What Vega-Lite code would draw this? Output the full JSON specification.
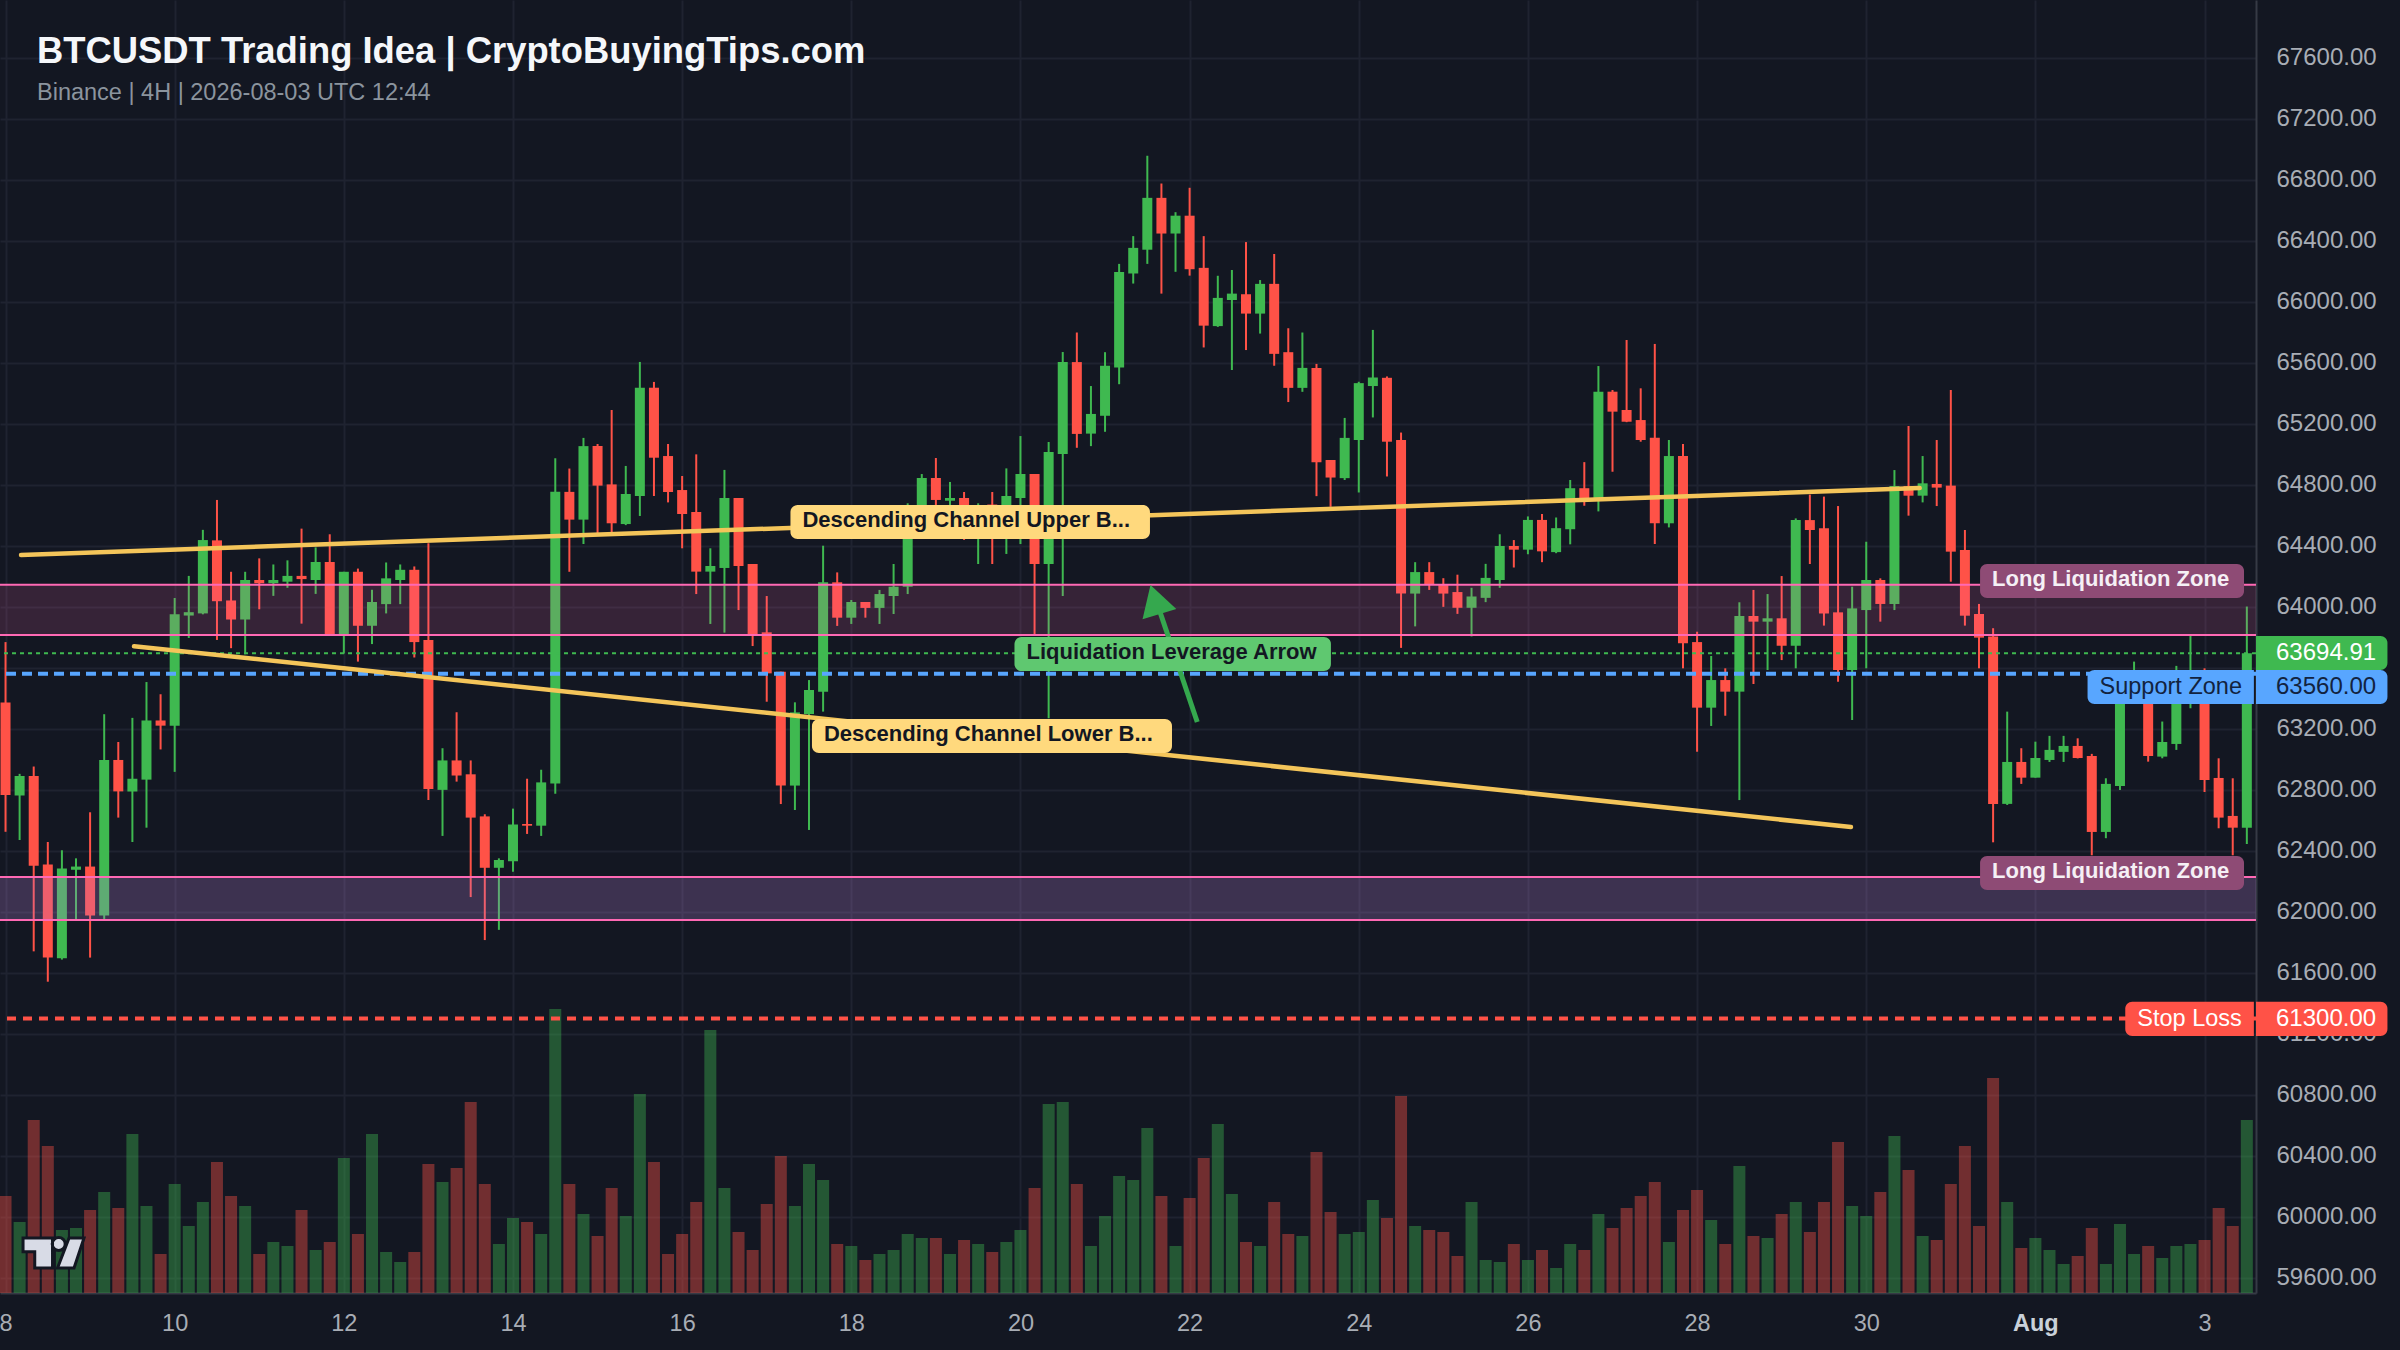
{
  "$schema": "https://vega.github.io/schema/vega-lite/v6.json",
  "autosize": {"type": "none"},
  "padding": {"left": 0, "top": 0, "right": 144, "bottom": 57},
  "width": 2256,
  "height": 1293,
  "background": "#131722",
  "config": {"view": {"stroke": null}, "font": "Liberation Sans"},
  "title": {
    "text": "BTCUSDT Trading Idea | CryptoBuyingTips.com",
    "subtitle": "Binance | 4H | 2026-08-03 UTC 12:44",
    "anchor": "start",
    "frame": "group",
    "orient": "top",
    "offset": -104,
    "dx": 37,
    "font": "Liberation Sans",
    "fontSize": 36.4,
    "fontWeight": "bold",
    "color": "#f5f7fa",
    "subtitleFont": "Liberation Sans",
    "subtitleFontSize": 23.5,
    "subtitleColor": "#8b949e",
    "subtitlePadding": 10
  },
  "datasets": {
    "candles": [
      {"t":"2026-07-08T00:00:00Z","o":63372,"h":63768,"l":62524,"c":62765,"v":97},
      {"t":"2026-07-08T04:00:00Z","o":62762,"h":62904,"l":62470,"c":62890,"v":71},
      {"t":"2026-07-08T08:00:00Z","o":62890,"h":62952,"l":61740,"c":62302,"v":173},
      {"t":"2026-07-08T12:00:00Z","o":62310,"h":62457,"l":61541,"c":61699,"v":147},
      {"t":"2026-07-08T16:00:00Z","o":61694,"h":62403,"l":61686,"c":62283,"v":63},
      {"t":"2026-07-08T20:00:00Z","o":62275,"h":62350,"l":61948,"c":62296,"v":65},
      {"t":"2026-07-09T00:00:00Z","o":62296,"h":62652,"l":61699,"c":61975,"v":83},
      {"t":"2026-07-09T04:00:00Z","o":61975,"h":63295,"l":61948,"c":62995,"v":101},
      {"t":"2026-07-09T08:00:00Z","o":62995,"h":63113,"l":62617,"c":62789,"v":85},
      {"t":"2026-07-09T12:00:00Z","o":62789,"h":63271,"l":62457,"c":62872,"v":159},
      {"t":"2026-07-09T16:00:00Z","o":62866,"h":63506,"l":62551,"c":63254,"v":87},
      {"t":"2026-07-09T20:00:00Z","o":63254,"h":63426,"l":63064,"c":63220,"v":39},
      {"t":"2026-07-10T00:00:00Z","o":63220,"h":64057,"l":62917,"c":63950,"v":109},
      {"t":"2026-07-10T04:00:00Z","o":63942,"h":64202,"l":63795,"c":63964,"v":67},
      {"t":"2026-07-10T08:00:00Z","o":63956,"h":64504,"l":63950,"c":64437,"v":91},
      {"t":"2026-07-10T12:00:00Z","o":64435,"h":64700,"l":63782,"c":64036,"v":131},
      {"t":"2026-07-10T16:00:00Z","o":64041,"h":64229,"l":63728,"c":63916,"v":97},
      {"t":"2026-07-10T20:00:00Z","o":63916,"h":64229,"l":63688,"c":64175,"v":87},
      {"t":"2026-07-11T00:00:00Z","o":64175,"h":64317,"l":63983,"c":64154,"v":39},
      {"t":"2026-07-11T04:00:00Z","o":64154,"h":64277,"l":64071,"c":64175,"v":51},
      {"t":"2026-07-11T08:00:00Z","o":64164,"h":64304,"l":64124,"c":64202,"v":47},
      {"t":"2026-07-11T12:00:00Z","o":64202,"h":64512,"l":63889,"c":64181,"v":83},
      {"t":"2026-07-11T16:00:00Z","o":64175,"h":64389,"l":64084,"c":64293,"v":43},
      {"t":"2026-07-11T20:00:00Z","o":64293,"h":64475,"l":63817,"c":63817,"v":51},
      {"t":"2026-07-12T00:00:00Z","o":63817,"h":64229,"l":63693,"c":64229,"v":135},
      {"t":"2026-07-12T04:00:00Z","o":64229,"h":64250,"l":63640,"c":63875,"v":59},
      {"t":"2026-07-12T08:00:00Z","o":63875,"h":64111,"l":63755,"c":64031,"v":159},
      {"t":"2026-07-12T12:00:00Z","o":64017,"h":64290,"l":63956,"c":64186,"v":41},
      {"t":"2026-07-12T16:00:00Z","o":64175,"h":64277,"l":64017,"c":64242,"v":31},
      {"t":"2026-07-12T20:00:00Z","o":64242,"h":64264,"l":63667,"c":63768,"v":41},
      {"t":"2026-07-13T00:00:00Z","o":63782,"h":64416,"l":62733,"c":62805,"v":129},
      {"t":"2026-07-13T04:00:00Z","o":62799,"h":63072,"l":62497,"c":62992,"v":111},
      {"t":"2026-07-13T08:00:00Z","o":62992,"h":63308,"l":62853,"c":62893,"v":125},
      {"t":"2026-07-13T12:00:00Z","o":62901,"h":62992,"l":62096,"c":62617,"v":191},
      {"t":"2026-07-13T16:00:00Z","o":62625,"h":62639,"l":61814,"c":62288,"v":109},
      {"t":"2026-07-13T20:00:00Z","o":62288,"h":62350,"l":61881,"c":62339,"v":49},
      {"t":"2026-07-14T00:00:00Z","o":62331,"h":62676,"l":62262,"c":62572,"v":75},
      {"t":"2026-07-14T04:00:00Z","o":62575,"h":62872,"l":62510,"c":62564,"v":71},
      {"t":"2026-07-14T08:00:00Z","o":62564,"h":62931,"l":62497,"c":62848,"v":59},
      {"t":"2026-07-14T12:00:00Z","o":62840,"h":64973,"l":62773,"c":64753,"v":284},
      {"t":"2026-07-14T16:00:00Z","o":64753,"h":64906,"l":64229,"c":64571,"v":109},
      {"t":"2026-07-14T20:00:00Z","o":64571,"h":65107,"l":64411,"c":65053,"v":79},
      {"t":"2026-07-15T00:00:00Z","o":65054,"h":65067,"l":64481,"c":64794,"v":57},
      {"t":"2026-07-15T04:00:00Z","o":64802,"h":65290,"l":64481,"c":64547,"v":105},
      {"t":"2026-07-15T08:00:00Z","o":64542,"h":64923,"l":64535,"c":64739,"v":77},
      {"t":"2026-07-15T12:00:00Z","o":64726,"h":65605,"l":64595,"c":65436,"v":199},
      {"t":"2026-07-15T16:00:00Z","o":65436,"h":65474,"l":64726,"c":64977,"v":131},
      {"t":"2026-07-15T20:00:00Z","o":64988,"h":65067,"l":64684,"c":64752,"v":39},
      {"t":"2026-07-16T00:00:00Z","o":64765,"h":64857,"l":64383,"c":64608,"v":59},
      {"t":"2026-07-16T04:00:00Z","o":64621,"h":64999,"l":64083,"c":64230,"v":91},
      {"t":"2026-07-16T08:00:00Z","o":64230,"h":64383,"l":63887,"c":64267,"v":263},
      {"t":"2026-07-16T12:00:00Z","o":64254,"h":64897,"l":63830,"c":64713,"v":105},
      {"t":"2026-07-16T16:00:00Z","o":64713,"h":64713,"l":63978,"c":64267,"v":61},
      {"t":"2026-07-16T20:00:00Z","o":64280,"h":64280,"l":63742,"c":63821,"v":43},
      {"t":"2026-07-17T00:00:00Z","o":63832,"h":64070,"l":63377,"c":63563,"v":89},
      {"t":"2026-07-17T04:00:00Z","o":63574,"h":63574,"l":62706,"c":62827,"v":137},
      {"t":"2026-07-17T08:00:00Z","o":62827,"h":63373,"l":62667,"c":63307,"v":87},
      {"t":"2026-07-17T12:00:00Z","o":63296,"h":63519,"l":62536,"c":63454,"v":129},
      {"t":"2026-07-17T16:00:00Z","o":63443,"h":64400,"l":63312,"c":64160,"v":113},
      {"t":"2026-07-17T20:00:00Z","o":64160,"h":64225,"l":63874,"c":63928,"v":49},
      {"t":"2026-07-18T00:00:00Z","o":63928,"h":64044,"l":63887,"c":64031,"v":47},
      {"t":"2026-07-18T04:00:00Z","o":64031,"h":64031,"l":63928,"c":63992,"v":33},
      {"t":"2026-07-18T08:00:00Z","o":63992,"h":64110,"l":63887,"c":64083,"v":39},
      {"t":"2026-07-18T12:00:00Z","o":64070,"h":64280,"l":63952,"c":64131,"v":43},
      {"t":"2026-07-18T16:00:00Z","o":64131,"h":64678,"l":64083,"c":64660,"v":59},
      {"t":"2026-07-18T20:00:00Z","o":64667,"h":64870,"l":64656,"c":64844,"v":55},
      {"t":"2026-07-19T00:00:00Z","o":64844,"h":64975,"l":64667,"c":64700,"v":55},
      {"t":"2026-07-19T04:00:00Z","o":64695,"h":64818,"l":64650,"c":64713,"v":39},
      {"t":"2026-07-19T08:00:00Z","o":64713,"h":64752,"l":64438,"c":64650,"v":53},
      {"t":"2026-07-19T12:00:00Z","o":64560,"h":64678,"l":64280,"c":64640,"v":49},
      {"t":"2026-07-19T16:00:00Z","o":64670,"h":64752,"l":64280,"c":64600,"v":41},
      {"t":"2026-07-19T20:00:00Z","o":64560,"h":64907,"l":64346,"c":64726,"v":51},
      {"t":"2026-07-20T00:00:00Z","o":64713,"h":65119,"l":64411,"c":64870,"v":63},
      {"t":"2026-07-20T04:00:00Z","o":64870,"h":64870,"l":63814,"c":64280,"v":105},
      {"t":"2026-07-20T08:00:00Z","o":64280,"h":65080,"l":63268,"c":65015,"v":189},
      {"t":"2026-07-20T12:00:00Z","o":65001,"h":65670,"l":64070,"c":65605,"v":191},
      {"t":"2026-07-20T16:00:00Z","o":65604,"h":65798,"l":65042,"c":65133,"v":109},
      {"t":"2026-07-20T20:00:00Z","o":65135,"h":65447,"l":65053,"c":65264,"v":47},
      {"t":"2026-07-21T00:00:00Z","o":65252,"h":65669,"l":65147,"c":65580,"v":77},
      {"t":"2026-07-21T04:00:00Z","o":65569,"h":66248,"l":65459,"c":66194,"v":117},
      {"t":"2026-07-21T08:00:00Z","o":66185,"h":66430,"l":66119,"c":66353,"v":113},
      {"t":"2026-07-21T12:00:00Z","o":66341,"h":66957,"l":66248,"c":66681,"v":165},
      {"t":"2026-07-21T16:00:00Z","o":66681,"h":66775,"l":66053,"c":66447,"v":97},
      {"t":"2026-07-21T20:00:00Z","o":66447,"h":66587,"l":66196,"c":66564,"v":47},
      {"t":"2026-07-22T00:00:00Z","o":66564,"h":66747,"l":66171,"c":66213,"v":95},
      {"t":"2026-07-22T04:00:00Z","o":66222,"h":66430,"l":65700,"c":65843,"v":135},
      {"t":"2026-07-22T08:00:00Z","o":65840,"h":66170,"l":65835,"c":66025,"v":169},
      {"t":"2026-07-22T12:00:00Z","o":66011,"h":66208,"l":65552,"c":66053,"v":99},
      {"t":"2026-07-22T16:00:00Z","o":66049,"h":66391,"l":65683,"c":65922,"v":51},
      {"t":"2026-07-22T20:00:00Z","o":65922,"h":66142,"l":65791,"c":66117,"v":47},
      {"t":"2026-07-23T00:00:00Z","o":66117,"h":66313,"l":65580,"c":65658,"v":91},
      {"t":"2026-07-23T04:00:00Z","o":65669,"h":65826,"l":65342,"c":65435,"v":59},
      {"t":"2026-07-23T08:00:00Z","o":65435,"h":65798,"l":65409,"c":65566,"v":57},
      {"t":"2026-07-23T12:00:00Z","o":65566,"h":65592,"l":64725,"c":64948,"v":141},
      {"t":"2026-07-23T16:00:00Z","o":64962,"h":64962,"l":64655,"c":64847,"v":81},
      {"t":"2026-07-23T20:00:00Z","o":64843,"h":65238,"l":64831,"c":65107,"v":59},
      {"t":"2026-07-24T00:00:00Z","o":65093,"h":65475,"l":64749,"c":65466,"v":61},
      {"t":"2026-07-24T04:00:00Z","o":65447,"h":65815,"l":65241,"c":65503,"v":93},
      {"t":"2026-07-24T08:00:00Z","o":65501,"h":65510,"l":64854,"c":65082,"v":75},
      {"t":"2026-07-24T12:00:00Z","o":65093,"h":65142,"l":63730,"c":64086,"v":197},
      {"t":"2026-07-24T16:00:00Z","o":64086,"h":64292,"l":63871,"c":64227,"v":67},
      {"t":"2026-07-24T20:00:00Z","o":64227,"h":64292,"l":64110,"c":64147,"v":63},
      {"t":"2026-07-25T00:00:00Z","o":64142,"h":64187,"l":63999,"c":64086,"v":61},
      {"t":"2026-07-25T04:00:00Z","o":64096,"h":64210,"l":63953,"c":63993,"v":37},
      {"t":"2026-07-25T08:00:00Z","o":63993,"h":64124,"l":63805,"c":64067,"v":91},
      {"t":"2026-07-25T12:00:00Z","o":64058,"h":64281,"l":64030,"c":64189,"v":33},
      {"t":"2026-07-25T16:00:00Z","o":64175,"h":64475,"l":64124,"c":64398,"v":31},
      {"t":"2026-07-25T20:00:00Z","o":64398,"h":64437,"l":64257,"c":64374,"v":49},
      {"t":"2026-07-26T00:00:00Z","o":64374,"h":64592,"l":64344,"c":64569,"v":33},
      {"t":"2026-07-26T04:00:00Z","o":64569,"h":64608,"l":64292,"c":64363,"v":43},
      {"t":"2026-07-26T08:00:00Z","o":64358,"h":64585,"l":64351,"c":64515,"v":25},
      {"t":"2026-07-26T12:00:00Z","o":64508,"h":64831,"l":64409,"c":64777,"v":49},
      {"t":"2026-07-26T16:00:00Z","o":64777,"h":64948,"l":64662,"c":64700,"v":43},
      {"t":"2026-07-26T20:00:00Z","o":64711,"h":65578,"l":64625,"c":65410,"v":79},
      {"t":"2026-07-27T00:00:00Z","o":65410,"h":65421,"l":64885,"c":65279,"v":65},
      {"t":"2026-07-27T04:00:00Z","o":65290,"h":65749,"l":65210,"c":65213,"v":85},
      {"t":"2026-07-27T08:00:00Z","o":65224,"h":65432,"l":65082,"c":65093,"v":97},
      {"t":"2026-07-27T12:00:00Z","o":65108,"h":65723,"l":64411,"c":64547,"v":111},
      {"t":"2026-07-27T16:00:00Z","o":64547,"h":65093,"l":64520,"c":64988,"v":51},
      {"t":"2026-07-27T20:00:00Z","o":64988,"h":65067,"l":63596,"c":63760,"v":83},
      {"t":"2026-07-28T00:00:00Z","o":63768,"h":63836,"l":63049,"c":63338,"v":103},
      {"t":"2026-07-28T04:00:00Z","o":63338,"h":63677,"l":63218,"c":63519,"v":73},
      {"t":"2026-07-28T08:00:00Z","o":63519,"h":63596,"l":63285,"c":63443,"v":49},
      {"t":"2026-07-28T12:00:00Z","o":63443,"h":64029,"l":62732,"c":63939,"v":127},
      {"t":"2026-07-28T16:00:00Z","o":63939,"h":64110,"l":63493,"c":63902,"v":57},
      {"t":"2026-07-28T20:00:00Z","o":63902,"h":64083,"l":63585,"c":63924,"v":55},
      {"t":"2026-07-29T00:00:00Z","o":63924,"h":64201,"l":63650,"c":63744,"v":79},
      {"t":"2026-07-29T04:00:00Z","o":63744,"h":64579,"l":63596,"c":64568,"v":91},
      {"t":"2026-07-29T08:00:00Z","o":64568,"h":64735,"l":64280,"c":64503,"v":61},
      {"t":"2026-07-29T12:00:00Z","o":64514,"h":64722,"l":63876,"c":63956,"v":91},
      {"t":"2026-07-29T16:00:00Z","o":63963,"h":64660,"l":63508,"c":63585,"v":151},
      {"t":"2026-07-29T20:00:00Z","o":63585,"h":64131,"l":63257,"c":63989,"v":87},
      {"t":"2026-07-30T00:00:00Z","o":63978,"h":64426,"l":63596,"c":64175,"v":77},
      {"t":"2026-07-30T04:00:00Z","o":64175,"h":64186,"l":63902,"c":64018,"v":101},
      {"t":"2026-07-30T08:00:00Z","o":64018,"h":64896,"l":63978,"c":64791,"v":157},
      {"t":"2026-07-30T12:00:00Z","o":64791,"h":65185,"l":64597,"c":64728,"v":123},
      {"t":"2026-07-30T16:00:00Z","o":64728,"h":64988,"l":64684,"c":64809,"v":57},
      {"t":"2026-07-30T20:00:00Z","o":64805,"h":65093,"l":64660,"c":64781,"v":53},
      {"t":"2026-07-31T00:00:00Z","o":64794,"h":65421,"l":64164,"c":64361,"v":109},
      {"t":"2026-07-31T04:00:00Z","o":64372,"h":64503,"l":63876,"c":63941,"v":147},
      {"t":"2026-07-31T08:00:00Z","o":63952,"h":64018,"l":63596,"c":63797,"v":67},
      {"t":"2026-07-31T12:00:00Z","o":63804,"h":63859,"l":62455,"c":62707,"v":215},
      {"t":"2026-07-31T16:00:00Z","o":62707,"h":63312,"l":62700,"c":62982,"v":91},
      {"t":"2026-07-31T20:00:00Z","o":62982,"h":63072,"l":62838,"c":62879,"v":45},
      {"t":"2026-08-01T00:00:00Z","o":62879,"h":63115,"l":62879,"c":63008,"v":55},
      {"t":"2026-08-01T04:00:00Z","o":62995,"h":63153,"l":62982,"c":63061,"v":43},
      {"t":"2026-08-01T08:00:00Z","o":63048,"h":63153,"l":62982,"c":63087,"v":29},
      {"t":"2026-08-01T12:00:00Z","o":63087,"h":63137,"l":63005,"c":63008,"v":37},
      {"t":"2026-08-01T16:00:00Z","o":63021,"h":63035,"l":62370,"c":62523,"v":65},
      {"t":"2026-08-01T20:00:00Z","o":62523,"h":62875,"l":62482,"c":62838,"v":29},
      {"t":"2026-08-02T00:00:00Z","o":62825,"h":63570,"l":62798,"c":63540,"v":69},
      {"t":"2026-08-02T04:00:00Z","o":63420,"h":63640,"l":63380,"c":63550,"v":39},
      {"t":"2026-08-02T08:00:00Z","o":63500,"h":63560,"l":62984,"c":63021,"v":47},
      {"t":"2026-08-02T12:00:00Z","o":63017,"h":63247,"l":63006,"c":63113,"v":35},
      {"t":"2026-08-02T16:00:00Z","o":63100,"h":63612,"l":63061,"c":63500,"v":47},
      {"t":"2026-08-02T20:00:00Z","o":63400,"h":63808,"l":63334,"c":63520,"v":49},
      {"t":"2026-08-03T00:00:00Z","o":63500,"h":63596,"l":62785,"c":62864,"v":53},
      {"t":"2026-08-03T04:00:00Z","o":62877,"h":63006,"l":62547,"c":62617,"v":85},
      {"t":"2026-08-03T08:00:00Z","o":62628,"h":62875,"l":62370,"c":62551,"v":67},
      {"t":"2026-08-03T12:00:00Z","o":62551,"h":64001,"l":62444,"c":63694.91,"v":173}
    ],
    "zones": [
      {"zone": "upper", "p0": 64144, "p1": 63814},
      {"zone": "lower", "p0": 62228, "p1": 61946}
    ],
    "trend": [
      {"name": "upper", "t": "2026-07-08T04:24:00Z", "p": 64339},
      {"name": "upper", "t": "2026-07-30T15:10:00Z", "p": 64778},
      {"name": "lower", "t": "2026-07-09T12:28:00Z", "p": 63741},
      {"name": "lower", "t": "2026-07-29T19:40:00Z", "p": 62555}
    ],
    "labels": [
      {"label": "Descending Channel Upper B...", "kind": "channel", "t0": "2026-07-17T06:44:00Z", "t1": "2026-07-21T12:45:00Z", "p0": 64667, "p1": 64444, "pm": 64555},
      {"label": "Descending Channel Lower B...", "kind": "channel", "t0": "2026-07-17T12:50:00Z", "t1": "2026-07-21T19:00:00Z", "p0": 63263, "p1": 63041, "pm": 63152},
      {"label": "Liquidation Leverage Arrow", "kind": "leverage", "t0": "2026-07-19T22:18:00Z", "t1": "2026-07-23T16:06:00Z", "p0": 63801, "p1": 63578, "pm": 63690},
      {"label": "Long Liquidation Zone", "kind": "liquidation", "t0": "2026-07-31T08:18:00Z", "t1": "2026-08-03T11:12:00Z", "p0": 64280, "p1": 64057, "pm": 64168},
      {"label": "Long Liquidation Zone", "kind": "liquidation", "t0": "2026-07-31T08:18:00Z", "t1": "2026-08-03T11:12:00Z", "p0": 62365, "p1": 62142, "pm": 62254}
    ],
    "sideLabels": [
      {"label": "Support Zone", "kind": "support", "t0": "2026-08-01T14:48:00Z", "t1": "2026-08-03T14:00:00Z", "p0": 63585, "p1": 63362, "pm": 63473},
      {"label": "Stop Loss", "kind": "stop", "t0": "2026-08-02T01:30:00Z", "t1": "2026-08-03T14:00:00Z", "p0": 61410, "p1": 61185, "pm": 61298}
    ],
    "tags": [
      {"label": "63694.91", "kind": "last", "t0": "2026-08-03T14:36:00Z", "t1": "2026-08-05T03:54:00Z", "p0": 63808, "p1": 63585, "pm": 63697},
      {"label": "63560.00", "kind": "support", "t0": "2026-08-03T14:36:00Z", "t1": "2026-08-05T03:54:00Z", "p0": 63585, "p1": 63362, "pm": 63473},
      {"label": "61300.00", "kind": "stop", "t0": "2026-08-03T14:36:00Z", "t1": "2026-08-05T03:54:00Z", "p0": 61410, "p1": 61185, "pm": 61298}
    ]
  },
  "layer": [
    {
      "data": {"name": "candles"},
      "mark": {"type": "bar", "width": 12, "opacity": 0.4},
      "encoding": {
        "x": {
          "field": "t",
          "type": "temporal",
          "scale": {"type": "utc", "padding": 0, "domain": ["2026-07-07T22:26:00Z", "2026-08-03T14:36:00Z"]},
          "axis": {
            "title": null,
            "orient": "bottom",
            "values": ["2026-07-08T00:00:00Z", "2026-07-10T00:00:00Z", "2026-07-12T00:00:00Z", "2026-07-14T00:00:00Z", "2026-07-16T00:00:00Z", "2026-07-18T00:00:00Z", "2026-07-20T00:00:00Z", "2026-07-22T00:00:00Z", "2026-07-24T00:00:00Z", "2026-07-26T00:00:00Z", "2026-07-28T00:00:00Z", "2026-07-30T00:00:00Z", "2026-08-01T00:00:00Z", "2026-08-03T00:00:00Z"],
            "labelExpr": "utcdate(datum.value) == 1 ? 'Aug' : '' + utcdate(datum.value)",
            "labelFontWeight": {"condition": {"test": "utcdate(datum.value) == 1", "value": "bold"}, "value": "normal"},
            "labelColor": {"condition": {"test": "utcdate(datum.value) == 1", "value": "#c9d1d9"}, "value": "#a8adb5"},
            "labelFont": "Liberation Sans",
            "labelFontSize": 23.5,
            "labelPadding": 18,
            "labelOverlap": false,
            "labelFlush": false,
            "labelBound": false,
            "ticks": false,
            "grid": true,
            "gridColor": "#1f2330",
            "gridWidth": 2,
            "domainColor": "#363a45",
            "domainWidth": 2
          }
        },
        "y": {"field": "v", "type": "quantitative", "stack": null, "scale": {"domain": [0, 1293], "nice": false}, "axis": null},
        "color": {"condition": {"test": "datum.c >= datum.o", "value": "#3fb950"}, "value": "#ff5247"}
      }
    },
    {
      "layer": [
        {
          "data": {"name": "candles"},
          "mark": {"type": "rule", "strokeWidth": 2},
          "encoding": {
            "x": {"field": "t", "type": "temporal", "scale": {"type": "utc", "padding": 0, "domain": ["2026-07-07T22:26:00Z", "2026-08-03T14:36:00Z"]}, "axis": {"title": null}},
            "y": {
              "field": "l",
              "type": "quantitative",
              "scale": {"domain": [59499.7, 67978.4], "nice": false, "zero": false},
              "axis": {
                "title": null,
                "orient": "right",
                "values": [59600, 60000, 60400, 60800, 61200, 61600, 62000, 62400, 62800, 63200, 63600, 64000, 64400, 64800, 65200, 65600, 66000, 66400, 66800, 67200, 67600],
                "format": ".2f",
                "labelFont": "Liberation Sans",
                "labelFontSize": 24,
                "labelColor": "#a8adb5",
                "labelPadding": 20,
                "labelOverlap": false,
                "labelFlush": false,
                "labelBound": false,
                "ticks": false,
                "grid": true,
                "gridColor": "#1f2330",
                "gridWidth": 2,
                "domainColor": "#363a45",
                "domainWidth": 2
              }
            },
            "y2": {"field": "h"},
            "color": {"condition": {"test": "datum.c >= datum.o", "value": "#3fb950"}, "value": "#ff5247"}
          }
        },
        {
          "data": {"name": "candles"},
          "mark": {"type": "bar", "width": 10},
          "encoding": {
            "x": {"field": "t", "type": "temporal", "scale": {"type": "utc", "padding": 0, "domain": ["2026-07-07T22:26:00Z", "2026-08-03T14:36:00Z"]}, "axis": {"title": null}},
            "y": {"field": "o", "type": "quantitative", "stack": null, "scale": {"domain": [59499.7, 67978.4], "nice": false, "zero": false}, "axis": {"title": null}},
            "y2": {"field": "c"},
            "color": {"condition": {"test": "datum.c >= datum.o", "value": "#3fb950"}, "value": "#ff5247"}
          }
        },
        {
          "data": {"name": "zones"},
          "mark": {"type": "rect"},
          "encoding": {
            "y": {"field": "p0", "type": "quantitative", "scale": {"domain": [59499.7, 67978.4], "nice": false, "zero": false}, "axis": {"title": null}},
            "y2": {"field": "p1"},
            "color": {"condition": {"test": "datum.zone === 'upper'", "value": "rgba(255,105,180,0.15)"}, "value": "rgba(187,131,218,0.25)"}
          }
        },
        {
          "data": {"name": "zones"},
          "mark": {"type": "rule", "color": "#ff69b4", "strokeWidth": 2},
          "encoding": {
            "y": {"field": "p0", "type": "quantitative", "scale": {"domain": [59499.7, 67978.4], "nice": false, "zero": false}, "axis": {"title": null}}
          }
        },
        {
          "data": {"name": "zones"},
          "mark": {"type": "rule", "color": "#ff69b4", "strokeWidth": 2},
          "encoding": {
            "y": {"field": "p1", "type": "quantitative", "scale": {"domain": [59499.7, 67978.4], "nice": false, "zero": false}, "axis": {"title": null}}
          }
        },
        {
          "data": {"values": [{"p": 63694.91}]},
          "mark": {"type": "rule", "color": "#3fb950", "strokeWidth": 2, "strokeDash": [4, 4]},
          "encoding": {
            "y": {"field": "p", "type": "quantitative", "scale": {"domain": [59499.7, 67978.4], "nice": false, "zero": false}, "axis": {"title": null}}
          }
        },
        {
          "data": {"values": [{"p": 63560}]},
          "mark": {"type": "rule", "color": "#58a6ff", "strokeWidth": 4, "strokeDash": [10, 6]},
          "encoding": {
            "y": {"field": "p", "type": "quantitative", "scale": {"domain": [59499.7, 67978.4], "nice": false, "zero": false}, "axis": {"title": null}}
          }
        },
        {
          "data": {"values": [{"p": 61300}]},
          "mark": {"type": "rule", "color": "#ff5247", "strokeWidth": 4, "strokeDash": [9, 7]},
          "encoding": {
            "y": {"field": "p", "type": "quantitative", "scale": {"domain": [59499.7, 67978.4], "nice": false, "zero": false}, "axis": {"title": null}}
          }
        },
        {
          "data": {"name": "trend"},
          "mark": {"type": "line", "color": "#f4c55a", "strokeWidth": 4.5, "strokeCap": "round"},
          "encoding": {
            "x": {"field": "t", "type": "temporal", "scale": {"type": "utc", "padding": 0, "domain": ["2026-07-07T22:26:00Z", "2026-08-03T14:36:00Z"]}, "axis": {"title": null}},
            "y": {"field": "p", "type": "quantitative", "scale": {"domain": [59499.7, 67978.4], "nice": false, "zero": false}, "axis": {"title": null}},
            "detail": {"field": "name"}
          }
        },
        {
          "data": {"values": [{"t0": "2026-07-21T15:36:00Z", "t1": "2026-07-22T02:10:00Z", "p0": 63965, "p1": 63244}]},
          "mark": {"type": "rule", "color": "#35a84e", "strokeWidth": 5},
          "encoding": {
            "x": {"field": "t0", "type": "temporal", "scale": {"type": "utc", "padding": 0, "domain": ["2026-07-07T22:26:00Z", "2026-08-03T14:36:00Z"]}, "axis": {"title": null}},
            "x2": {"field": "t1"},
            "y": {"field": "p0", "type": "quantitative", "scale": {"domain": [59499.7, 67978.4], "nice": false, "zero": false}, "axis": {"title": null}},
            "y2": {"field": "p1"}
          }
        },
        {
          "data": {"values": [{"t": "2026-07-21T14:10:00Z", "p": 64047}]},
          "mark": {"type": "point", "shape": "triangle-up", "filled": true, "size": 1250, "angle": -17, "color": "#35a84e", "opacity": 1},
          "encoding": {
            "x": {"field": "t", "type": "temporal", "scale": {"type": "utc", "padding": 0, "domain": ["2026-07-07T22:26:00Z", "2026-08-03T14:36:00Z"]}, "axis": {"title": null}},
            "y": {"field": "p", "type": "quantitative", "scale": {"domain": [59499.7, 67978.4], "nice": false, "zero": false}, "axis": {"title": null}}
          }
        },
        {
          "data": {"name": "labels"},
          "mark": {"type": "rect", "cornerRadius": 7},
          "encoding": {
            "x": {"field": "t0", "type": "temporal", "scale": {"type": "utc", "padding": 0, "domain": ["2026-07-07T22:26:00Z", "2026-08-03T14:36:00Z"]}, "axis": {"title": null}},
            "x2": {"field": "t1"},
            "y": {"field": "p0", "type": "quantitative", "scale": {"domain": [59499.7, 67978.4], "nice": false, "zero": false}, "axis": {"title": null}},
            "y2": {"field": "p1"},
            "color": {
              "field": "kind",
              "type": "nominal",
              "scale": {"domain": ["channel", "leverage", "liquidation", "support", "stop", "last"], "range": ["#ffd97d", "#5fc870", "#8e4b75", "#58a6ff", "#ff5247", "#3fb950"]},
              "legend": null
            }
          }
        },
        {
          "data": {"name": "labels"},
          "mark": {"type": "text", "align": "left", "baseline": "middle", "dx": 12, "dy": -2, "font": "Liberation Sans", "fontSize": 22, "fontWeight": "bold"},
          "encoding": {
            "x": {"field": "t0", "type": "temporal", "scale": {"type": "utc", "padding": 0, "domain": ["2026-07-07T22:26:00Z", "2026-08-03T14:36:00Z"]}, "axis": {"title": null}},
            "y": {"field": "pm", "type": "quantitative", "scale": {"domain": [59499.7, 67978.4], "nice": false, "zero": false}, "axis": {"title": null}},
            "text": {"field": "label", "type": "nominal"},
            "color": {"condition": {"test": "datum.kind === 'liquidation'", "value": "#f5f0f5"}, "value": "#131722"}
          }
        },
        {
          "data": {"name": "sideLabels"},
          "mark": {"type": "rect", "cornerRadiusTopLeft": 7, "cornerRadiusBottomLeft": 7},
          "encoding": {
            "x": {"field": "t0", "type": "temporal", "scale": {"type": "utc", "padding": 0, "domain": ["2026-07-07T22:26:00Z", "2026-08-03T14:36:00Z"]}, "axis": {"title": null}},
            "x2": {"field": "t1"},
            "y": {"field": "p0", "type": "quantitative", "scale": {"domain": [59499.7, 67978.4], "nice": false, "zero": false}, "axis": {"title": null}},
            "y2": {"field": "p1"},
            "color": {"field": "kind", "type": "nominal", "legend": null}
          }
        },
        {
          "data": {"name": "sideLabels"},
          "mark": {"type": "text", "align": "left", "baseline": "middle", "dx": 12, "font": "Liberation Sans", "fontSize": 23.5},
          "encoding": {
            "x": {"field": "t0", "type": "temporal", "scale": {"type": "utc", "padding": 0, "domain": ["2026-07-07T22:26:00Z", "2026-08-03T14:36:00Z"]}, "axis": {"title": null}},
            "y": {"field": "pm", "type": "quantitative", "scale": {"domain": [59499.7, 67978.4], "nice": false, "zero": false}, "axis": {"title": null}},
            "text": {"field": "label", "type": "nominal"},
            "color": {"condition": {"test": "datum.kind === 'stop'", "value": "#ffffff"}, "value": "#12233f"}
          }
        },
        {
          "data": {"name": "tags"},
          "mark": {"type": "rect", "cornerRadiusTopRight": 7, "cornerRadiusBottomRight": 7},
          "encoding": {
            "x": {"field": "t0", "type": "temporal", "scale": {"type": "utc", "padding": 0, "domain": ["2026-07-07T22:26:00Z", "2026-08-03T14:36:00Z"]}, "axis": {"title": null}},
            "x2": {"field": "t1"},
            "y": {"field": "p0", "type": "quantitative", "scale": {"domain": [59499.7, 67978.4], "nice": false, "zero": false}, "axis": {"title": null}},
            "y2": {"field": "p1"},
            "color": {"field": "kind", "type": "nominal", "legend": null}
          }
        },
        {
          "data": {"name": "tags"},
          "mark": {"type": "text", "align": "left", "baseline": "middle", "dx": 20, "font": "Liberation Sans", "fontSize": 24},
          "encoding": {
            "x": {"field": "t0", "type": "temporal", "scale": {"type": "utc", "padding": 0, "domain": ["2026-07-07T22:26:00Z", "2026-08-03T14:36:00Z"]}, "axis": {"title": null}},
            "y": {"field": "pm", "type": "quantitative", "scale": {"domain": [59499.7, 67978.4], "nice": false, "zero": false}, "axis": {"title": null}},
            "text": {"field": "label", "type": "nominal"},
            "color": {"condition": {"test": "datum.kind === 'support'", "value": "#12233f"}, "value": "#ffffff"}
          }
        },
        {
          "data": {"values": [{"t": "2026-07-08T13:46:00Z", "p": 59762}]},
          "mark": {
            "type": "point",
            "filled": true,
            "size": 5184,
            "opacity": 1,
            "color": "#d8dbe6",
            "stroke": "#131722",
            "strokeWidth": 3,
            "shape": "M-.861,-.417L-.042,-.417L-.042,.417L-.536,.417L-.536,-.036L-.861,-.036ZM-.05,-.25a.18,.18 0 1,0 .36,0a.18,.18 0 1,0 -.36,0ZM.417,-.417L.833,-.417L.556,.417L.097,.417Z"
          },
          "encoding": {
            "x": {"field": "t", "type": "temporal", "scale": {"type": "utc", "padding": 0, "domain": ["2026-07-07T22:26:00Z", "2026-08-03T14:36:00Z"]}, "axis": {"title": null}},
            "y": {"field": "p", "type": "quantitative", "scale": {"domain": [59499.7, 67978.4], "nice": false, "zero": false}, "axis": {"title": null}}
          }
        }
      ]
    }
  ],
  "resolve": {"scale": {"y": "independent"}}
}
